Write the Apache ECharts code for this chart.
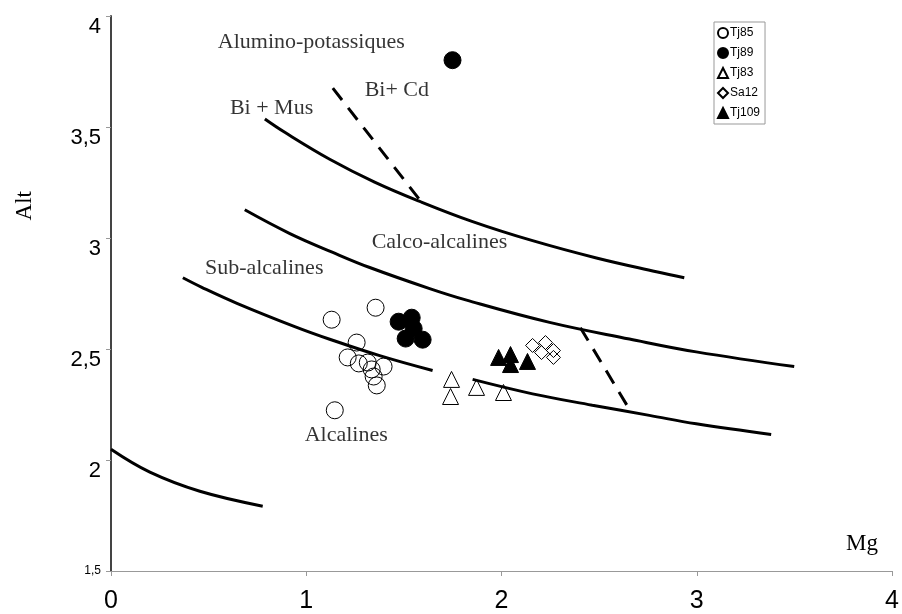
<!DOCTYPE html>
<html>
<head>
<meta charset="utf-8">
<script src="https://cdn.jsdelivr.net/npm/echarts@6/dist/echarts.min.js"></script>
<style>html,body{margin:0;padding:0;background:#fff}#c{width:902px;height:614px}</style>
</head>
<body>
<div id="c"></div>
<script>
// Boundary curves [Mg, Alt]
const curveBiMus = [[0.788,3.536],[0.890,3.476],[1.120,3.355],[1.350,3.252],[1.581,3.165],[1.852,3.074],[2.159,2.988],[2.486,2.910],[2.793,2.848],[2.936,2.821]];
const curveCalco = [[0.685,3.127],[0.916,3.020],[1.136,2.935],[1.325,2.867],[1.632,2.772],[1.821,2.720],[2.246,2.620],[2.655,2.545],[2.997,2.487],[3.499,2.421]];
const curveSub = [[0.368,2.821],[0.465,2.778],[0.645,2.706],[0.941,2.601],[1.120,2.544],[1.376,2.470],[1.647,2.403]];
const curveAlc = [[1.852,2.363],[2.159,2.298],[2.465,2.247],[2.757,2.201],[2.997,2.163],[3.381,2.115]];
const curveLow = [[0.000,2.048],[0.199,1.945],[0.455,1.859],[0.777,1.792]];
const dashCd1 = [[1.136,3.675],[1.581,3.172]];
const dashCd2 = [[2.404,2.596],[2.655,2.228]];

// Samples [Mg, Alt]
const tj85 = [[1.130,2.632],[1.355,2.686],[1.258,2.529],[1.212,2.462],[1.269,2.435],[1.315,2.439],[1.396,2.421],[1.335,2.408],[1.345,2.376],[1.361,2.336],[1.146,2.224]];
const tj89 = [[1.473,2.623],[1.540,2.641],[1.550,2.592],[1.509,2.547],[1.596,2.542],[1.749,3.801]];
const tj83 = [[1.744,2.363],[1.739,2.286],[1.872,2.327],[2.010,2.304]];
const sa12 = [[2.159,2.516],[2.225,2.529],[2.205,2.484],[2.266,2.493],[2.266,2.462]];
const tj109 = [[1.985,2.462],[2.046,2.475],[2.046,2.430],[2.133,2.444]];

// Field labels [Mg, Alt, text]
const fieldLabels = [[0.547,3.882,'Alumino-potassiques'],[1.299,3.666,'Bi+ Cd'],[0.609,3.585,'Bi + Mus'],[1.335,2.983,'Calco-alcalines'],[0.481,2.862,'Sub-alcalines'],[0.992,2.111,'Alcalines']];

const xTicks = {min:0,max:4,interval:1};
const yTicks = {min:1.5,max:4,interval:0.5};

const chart = echarts.init(document.getElementById('c'));
const serif = 'Liberation Serif, Times New Roman, serif';
function curve(data, dashed){
  return {type:'line', data:data, smooth:dashed ? false : 0.4, showSymbol:false, silent:true, z:2,
    lineStyle:{color:'#000', width:3, opacity:1, type: dashed ? [15,10] : 'solid'}};
}
const open = {color:'rgba(0,0,0,0)', borderColor:'#000', borderWidth:1, opacity:1};
const filled = {color:'#000', borderColor:'#000', borderWidth:1, opacity:1};
chart.setOption({
  animation:false,
  backgroundColor:'#fff',
  grid:{left:111, top:16, width:782, height:556},
  legend:{
    orient:'vertical', left:714, top:22, itemWidth:10, itemHeight:10, itemGap:8,
    padding:[5,5,5,3], borderColor:'#999', borderWidth:1, backgroundColor:'#fff',
    textStyle:{fontFamily:'Liberation Sans, Arial', fontSize:12, color:'#000', padding:[0,0,0,-3]},
    data:['Tj85','Tj89','Tj83','Sa12','Tj109']
  },
  xAxis:{type:'value', min:xTicks.min, max:xTicks.max, interval:xTicks.interval,
    axisLine:{lineStyle:{color:'#999', width:1}},
    axisTick:{show:true, length:5, lineStyle:{color:'#999'}},
    splitLine:{show:false},
    axisLabel:{color:'#000', fontSize:25, fontFamily:'Liberation Sans, Arial', margin:18}
  },
  yAxis:{type:'value', min:yTicks.min, max:yTicks.max, interval:yTicks.interval,
    axisLine:{show:true, lineStyle:{color:'#444', width:2}},
    axisTick:{show:true, length:5, lineStyle:{color:'#999'}},
    splitLine:{show:false},
    axisLabel:{color:'#000', fontSize:22, fontFamily:'Liberation Sans, Arial', margin:10, verticalAlign:'top',
      formatter:function(v){ const s=String(v).replace('.',','); return v===1.5 ? '{s|'+s+'}' : s; },
      rich:{s:{fontSize:12, fontFamily:'Liberation Sans, Arial', color:'#000', padding:[-6,0,0,0]}}}
  },
  graphic:[
    {type:'text', left:13, top:191, rotation:Math.PI/2, style:{text:'Alt', font:'23px '+serif, fill:'#000'}},
    {type:'text', left:846, top:532, style:{text:'Mg', font:'23px '+serif, fill:'#000'}}
  ],
  series:[
    curve(curveBiMus), curve(curveCalco), curve(curveSub), curve(curveAlc), curve(curveLow),
    curve(dashCd1,true), curve(dashCd2,true),
    {name:'Tj85', type:'scatter', data:tj85, symbol:'circle', symbolSize:17, itemStyle:open, z:3},
    {name:'Tj89', type:'scatter', data:tj89, symbol:'circle', symbolSize:17, itemStyle:filled, z:3},
    {name:'Tj83', type:'scatter', data:tj83, symbol:'triangle', symbolSize:16, itemStyle:open, z:3},
    {name:'Sa12', type:'scatter', data:sa12, symbol:'diamond', symbolSize:14, itemStyle:open, z:3},
    {name:'Tj109', type:'scatter', data:tj109, symbol:'triangle', symbolSize:16, itemStyle:filled, z:3},
    {type:'scatter', data:fieldLabels.map(d=>({value:[d[0],d[1]], name:d[2]})), symbolSize:0, silent:true, z:4,
      label:{show:true, position:'right', distance:0, formatter:'{b}', color:'#000', fontSize:22, fontFamily:serif}}
  ]
});
</script>
</body>
</html>
